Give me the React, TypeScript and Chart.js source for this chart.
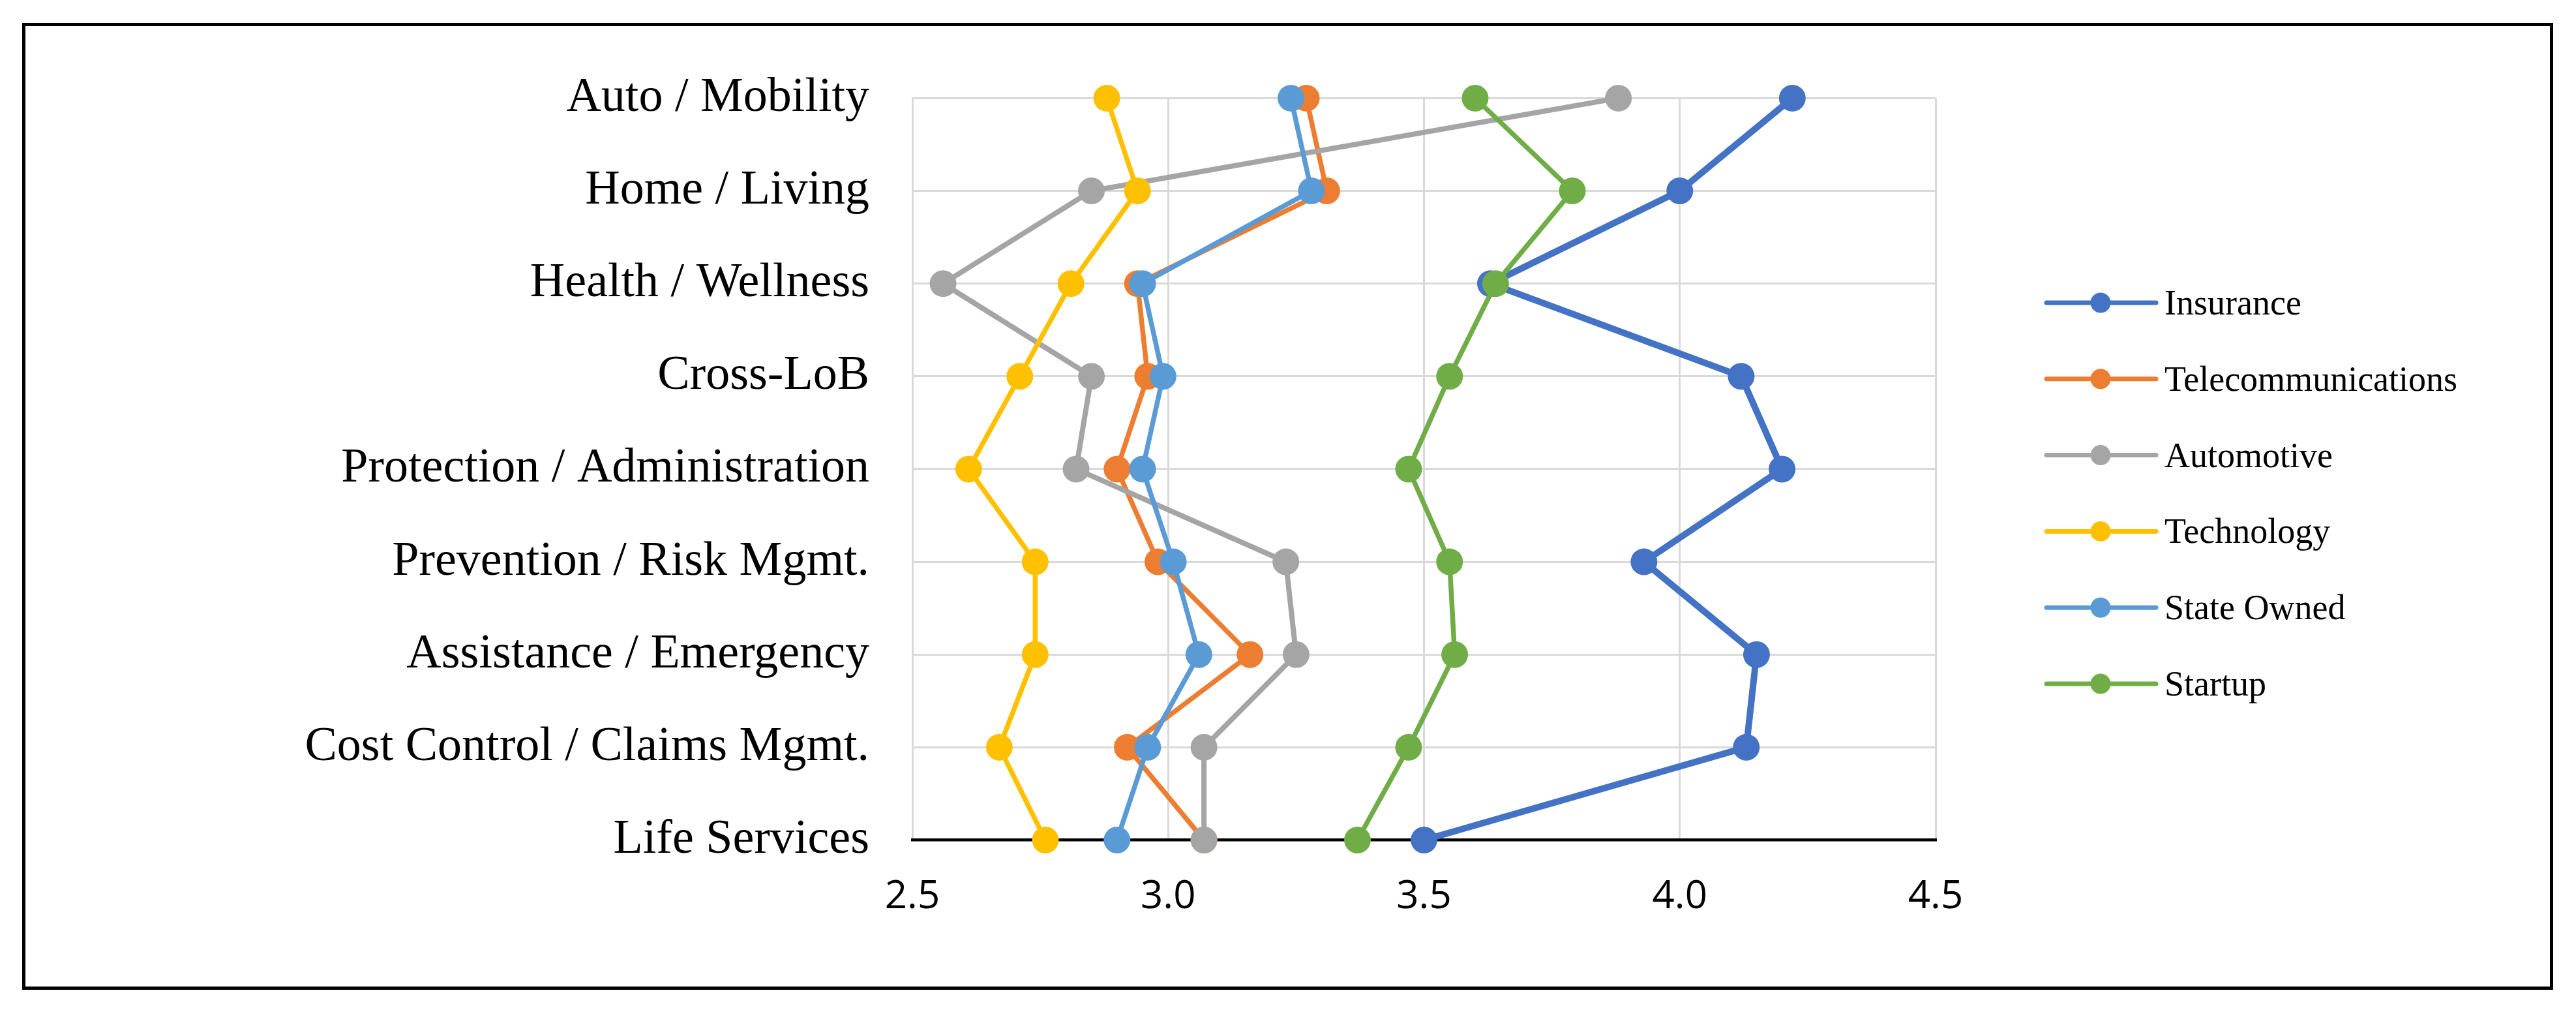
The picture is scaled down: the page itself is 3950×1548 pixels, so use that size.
import React, { useEffect, useRef } from "react";
import { Chart, registerables } from "chart.js";

Chart.register(...registerables);

const categories = [
  "Auto / Mobility",
  "Home / Living",
  "Health / Wellness",
  "Cross-LoB",
  "Protection / Administration",
  "Prevention / Risk Mgmt.",
  "Assistance / Emergency",
  "Cost Control / Claims Mgmt.",
  "Life Services",
];

const seriesNames = ["Insurance", "Telecommunications", "Automotive", "Technology", "State Owned", "Startup"];
const seriesColors = ["#4472C4", "#ED7D31", "#A5A5A5", "#FFC000", "#5B9BD5", "#70AD47"];

const insurance = [4.22, 4.0, 3.63, 4.12, 4.2, 3.93, 4.15, 4.13, 3.5];
const telecommunications = [3.27, 3.31, 2.94, 2.96, 2.9, 2.98, 3.16, 2.92, 3.07];
const automotive = [3.88, 2.85, 2.56, 2.85, 2.82, 3.23, 3.25, 3.07, 3.07];
const technology = [2.88, 2.94, 2.81, 2.71, 2.61, 2.74, 2.74, 2.67, 2.76];
const stateOwned = [3.24, 3.28, 2.95, 2.99, 2.95, 3.01, 3.06, 2.96, 2.9];
const startup = [3.6, 3.79, 3.64, 3.55, 3.47, 3.55, 3.56, 3.47, 3.37];

const seriesValues = [insurance, telecommunications, automotive, technology, stateOwned, startup];
const lineWidths = [10, 7.5, 8, 7.5, 7.5, 7.5];

const xTicks = [2.5, 3.0, 3.5, 4.0, 4.5];

const CANVAS_W = 3871;
const CANVAS_H = 1472;

const legendPlugin = {
  id: "customLegend",
  afterDraw(chart: any) {
    const ctx = chart.ctx;
    const x0 = chart.chartArea.right + 170;
    const startY = 424;
    const step = 116.8;
    ctx.save();
    chart.data.datasets.forEach((ds: any, i: number) => {
      const y = startY + i * step;
      ctx.strokeStyle = ds.borderColor;
      ctx.lineWidth = 7;
      ctx.lineCap = "round";
      ctx.beginPath();
      ctx.moveTo(x0, y);
      ctx.lineTo(x0 + 168, y);
      ctx.stroke();
      ctx.fillStyle = ds.borderColor;
      ctx.beginPath();
      ctx.arc(x0 + 83, y, 15.5, 0, Math.PI * 2);
      ctx.fill();
      ctx.fillStyle = "#000";
      ctx.font = '54px "Liberation Serif"';
      ctx.textAlign = "left";
      ctx.textBaseline = "alphabetic";
      ctx.fillText(ds.label, x0 + 181, y + 18);
    });
    ctx.restore();
  },
};

export default function App() {
  const canvasRef = useRef<HTMLCanvasElement | null>(null);

  useEffect(() => {
    let chart: Chart | null = null;
    let cancelled = false;
    const build = () => {
      if (cancelled || !canvasRef.current) return;
      chart = new Chart(canvasRef.current, {
        type: "line",
        data: {
          labels: categories,
          datasets: seriesNames.map((name, i) => ({
            label: name,
            data: seriesValues[i],
            borderColor: seriesColors[i],
            backgroundColor: seriesColors[i],
            borderWidth: lineWidths[i],
            pointRadius: 20.5,
            pointBorderWidth: 0,
            pointBackgroundColor: seriesColors[i],
            pointBorderColor: seriesColors[i],
            pointHoverRadius: 20.5,
            tension: 0,
            fill: false,
            clip: false as any,
            order: seriesNames.length - i,
          })),
        },
        options: {
          indexAxis: "y",
          responsive: false,
          maintainAspectRatio: false,
          animation: false,
          devicePixelRatio: 1,
          events: [],
          layout: { padding: { top: 99.5, right: 942, bottom: 0, left: 0 } },
          plugins: {
            legend: { display: false },
            tooltip: { enabled: false },
            title: { display: false },
          },
          scales: {
            x: {
              type: "linear",
              min: 2.5,
              max: 4.5,
              afterBuildTicks: (scale: any) => {
                scale.ticks = xTicks.map((v) => ({ value: v }));
              },
              afterFit: (scale: any) => {
                scale.height = 224.5;
              },
              ticks: {
                callback: (v: any) => Number(v).toFixed(1),
                color: "#000",
                font: { family: '"Open Sans"', size: 60 },
                padding: 51,
                maxRotation: 0,
              },
              grid: { color: "#d9d9d9", lineWidth: 3, drawTicks: false },
              border: { display: true, color: "#000", width: 4.5 },
            },
            y: {
              type: "category",
              offset: false,
              afterFit: (scale: any) => {
                scale.width = 1360;
              },
              ticks: {
                color: "#000",
                font: { family: '"Liberation Serif"', size: 74 },
                padding: 66,
              },
              grid: {
                color: (ctx: any) => (ctx.index === categories.length - 1 ? "rgba(0,0,0,0)" : "#d9d9d9"),
                lineWidth: 3,
                drawTicks: false,
              },
              border: { display: false },
            },
          },
        },
        plugins: [legendPlugin],
      });
    };
    const fontsApi: any = (document as any).fonts;
    if (fontsApi && fontsApi.load) {
      Promise.all([
        fontsApi.load('74px "Liberation Serif"'),
        fontsApi.load('60px "Open Sans"'),
      ])
        .catch(() => undefined)
        .then(build);
    } else {
      build();
    }
    return () => {
      cancelled = true;
      if (chart) chart.destroy();
    };
  }, []);

  return (
    <div style={{ position: "fixed", left: 0, top: 0, width: 3950, height: 1548, background: "#fff" }}>
      <div
        style={{
          position: "absolute",
          left: 34,
          top: 35,
          width: 3881,
          height: 1482,
          border: "5px solid #000",
          boxSizing: "border-box",
        }}
      >
        <canvas
          ref={canvasRef}
          width={CANVAS_W}
          height={CANVAS_H}
          style={{ position: "absolute", left: 0, top: 0, width: CANVAS_W, height: CANVAS_H }}
        />
      </div>
    </div>
  );
}
